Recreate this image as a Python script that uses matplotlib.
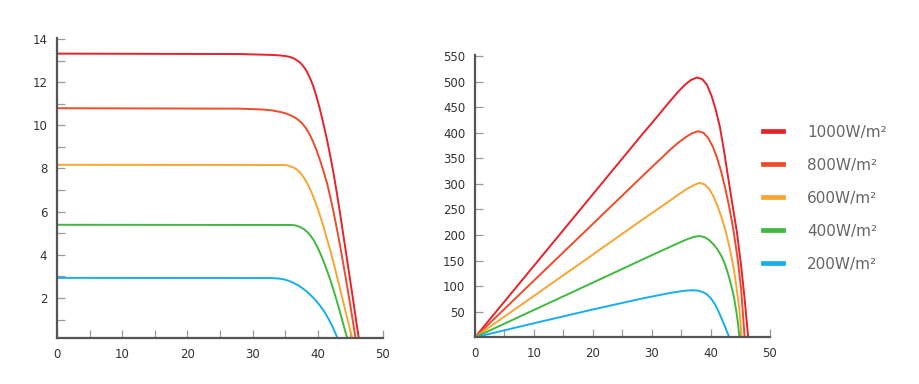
import matplotlib
matplotlib.use("Agg")
import matplotlib.pyplot as plt
from matplotlib.ticker import MultipleLocator, FixedLocator

# ---- data ----
labels = ["1000W/m\u00b2", "800W/m\u00b2", "600W/m\u00b2", "400W/m\u00b2", "200W/m\u00b2"]
colors = ["#e8212b", "#ef4b2b", "#f8a532", "#3fb93f", "#17aef0"]

# I-V curves (voltage, current)
iv_v_1000 = [0, 28, 33.0, 34.0, 35.0, 35.7, 36.3, 36.8, 37.3, 37.8, 38.3, 38.8, 39.3, 39.8, 40.3,
             40.8, 41.4, 41.9, 42.4, 42.9, 43.4, 43.9, 44.4, 44.9, 45.4, 45.9, 46.35]
iv_i_1000 = [13.32, 13.30, 13.26, 13.24, 13.21, 13.17, 13.10, 13.01, 12.90, 12.73, 12.50, 12.19,
             11.82, 11.33, 10.78, 10.15, 9.35, 8.60, 7.80, 6.90, 5.95, 4.95, 3.95, 2.95, 1.95, 0.90, 0]
iv_v_800 = [0, 28, 30, 31.5, 33, 34.2, 35.2, 36.0, 36.8, 37.5, 38.2, 38.8, 39.3, 39.8, 40.3,
            40.8, 41.4, 41.9, 42.4, 42.9, 43.4, 43.9, 44.4, 44.9, 45.4, 45.85]
iv_i_800 = [10.79, 10.77, 10.75, 10.73, 10.69, 10.62, 10.54, 10.44, 10.30, 10.12, 9.86, 9.55,
            9.22, 8.85, 8.42, 7.95, 7.34, 6.70, 6.00, 5.25, 4.45, 3.60, 2.72, 1.82, 0.88, 0]
iv_v_600 = [0, 34.6, 35.2, 35.7, 36.2, 36.8, 37.3, 37.8, 38.3, 38.8, 39.3, 39.8, 40.3, 40.8,
            41.3, 41.9, 42.4, 42.9, 43.4, 43.9, 44.4, 44.9, 45.4]
iv_i_600 = [8.17, 8.16, 8.15, 8.11, 8.05, 7.95, 7.80, 7.60, 7.35, 7.05, 6.70, 6.30, 5.85, 5.37,
            4.85, 4.22, 3.65, 3.05, 2.44, 1.82, 1.20, 0.58, 0]
iv_v_400 = [0, 35.8, 36.4, 36.9, 37.4, 37.9, 38.4, 38.9, 39.4, 39.9, 40.4, 40.9, 41.4, 41.9,
            42.4, 42.9, 43.4, 43.9, 44.4, 44.75]
iv_i_400 = [5.39, 5.38, 5.37, 5.33, 5.27, 5.18, 5.05, 4.88, 4.66, 4.38, 4.05, 3.68, 3.28, 2.85,
            2.38, 1.88, 1.35, 0.80, 0.25, 0]
iv_v_200 = [0, 33.0, 34.0, 34.8, 35.5, 36.2, 36.9, 37.6, 38.3, 39.0, 39.7, 40.4, 41.1, 41.7,
            42.3, 42.8, 43.2]
iv_i_200 = [2.93, 2.92, 2.90, 2.86, 2.80, 2.71, 2.60, 2.46, 2.30, 2.10, 1.88, 1.62, 1.32, 1.00,
            0.64, 0.30, 0]

# P-V curves (voltage, power)
pv_v_1000 = [0, 10, 20, 28, 31, 33, 34.5, 35.7, 36.6, 37.6, 38.5, 39.3, 40.1, 40.8, 41.5, 42.2,
             42.9, 43.6, 44.4, 45.1, 45.7, 46.3]
pv_p_1000 = [0, 140, 280, 392, 433, 461, 481, 495, 503, 508, 505, 494, 472, 445, 412, 365,
             313, 262, 205, 140, 75, 0]
pv_v_800 = [0, 10, 20, 28, 31, 33, 34.5, 35.8, 36.8, 37.8, 38.7, 39.5, 40.3, 41.0, 41.7, 42.4,
            43.1, 43.8, 44.5, 45.1, 45.7]
pv_p_800 = [0, 111, 222, 311, 344, 366, 381, 392, 399, 403, 400, 390, 373, 352, 325, 292, 254,
            210, 155, 95, 0]
pv_v_600 = [0, 10, 20, 28, 31, 33, 34.6, 35.9, 37, 38, 38.9, 39.7, 40.4, 41.1, 41.8, 42.5, 43.2,
            43.8, 44.3, 44.8, 45.2]
pv_p_600 = [0, 81, 162, 227, 251, 267, 280, 290, 297, 302, 299, 290, 276, 257, 234, 207, 173,
            138, 100, 55, 0]
pv_v_400 = [0, 10, 20, 28, 31, 33, 34.6, 35.9, 37, 38, 38.9, 39.7, 40.4, 41.1, 41.8, 42.4, 43,
            43.5, 43.9, 44.3, 44.6, 44.8]
pv_p_400 = [0, 53.5, 107, 150, 166, 176.5, 185, 191.5, 196, 198, 196, 190, 182, 172, 158, 142,
            120, 98, 78, 50, 25, 0]
pv_v_200 = [0, 10, 20, 28, 31, 33, 34.6, 35.8, 36.8, 37.8, 38.6, 39.3, 40, 40.7, 41.3, 41.9,
            42.5, 43.1]
pv_p_200 = [0, 27.5, 54.5, 75, 82, 86.5, 89.5, 91.3, 92, 91.3, 88.5, 84, 76, 64, 50, 34, 17, 0]

iv_series = [(iv_v_1000, iv_i_1000), (iv_v_800, iv_i_800), (iv_v_600, iv_i_600),
             (iv_v_400, iv_i_400), (iv_v_200, iv_i_200)]
pv_series = [(pv_v_1000, pv_p_1000), (pv_v_800, pv_p_800), (pv_v_600, pv_p_600),
             (pv_v_400, pv_p_400), (pv_v_200, pv_p_200)]

AXIS = "#555555"
TICK = "#9a9a9a"
LABEL = "#333333"

plt.rcParams.update({"font.family": ["DejaVu Sans"]})

fig = plt.figure(figsize=(9.2, 3.84), dpi=100)
ax1 = fig.add_axes([57 / 920, 45.7 / 384, 326 / 920, 300 / 384])
ax2 = fig.add_axes([475 / 920, 46.7 / 384, 295 / 920, 282.3 / 384])


def style(ax):
    for s in ("top", "right"):
        ax.spines[s].set_visible(False)
    for s in ("left", "bottom"):
        ax.spines[s].set_color(AXIS)
        ax.spines[s].set_linewidth(1.6)
    ax.tick_params(which="both", direction="in", length=5.5, width=0.9,
                   color=TICK, labelcolor=LABEL, labelsize=8.5, pad=7)


for (v, i), c in zip(iv_series, colors):
    ax1.plot(v, i, color=c, lw=1.4, solid_joinstyle="round")
ax1.set_xlim(0, 50)
ax1.set_ylim(0.13, 14.03)
ax1.xaxis.set_major_locator(MultipleLocator(10))
ax1.xaxis.set_minor_locator(MultipleLocator(5))
ax1.yaxis.set_major_locator(FixedLocator([2, 4, 6, 8, 10, 12, 14]))
ax1.yaxis.set_minor_locator(FixedLocator([1, 3, 5, 7, 9, 11, 13]))
style(ax1)

lines = []
for (v, p), c in zip(pv_series, colors):
    ln, = ax2.plot(v, p, color=c, lw=1.4, solid_joinstyle="round")
    lines.append(ln)
ax2.set_xlim(0, 50)
ax2.set_ylim(0, 552)
ax2.xaxis.set_major_locator(MultipleLocator(10))
ax2.xaxis.set_minor_locator(MultipleLocator(5))
ax2.yaxis.set_major_locator(FixedLocator(list(range(50, 551, 50))))
style(ax2)

leg = fig.legend(lines, labels, loc="upper left", bbox_to_anchor=(763 / 920, 1 - 124.5 / 384),
                 frameon=False, borderpad=0, borderaxespad=0, handlelength=1.3,
                 handletextpad=1.6, labelspacing=1.18, prop={"size": 11})
for t in leg.get_texts():
    t.set_color("#666666")
for h in leg.legend_handles:
    h.set_linewidth(3.4)

fig.savefig("out.png", dpi=100, facecolor="white")
